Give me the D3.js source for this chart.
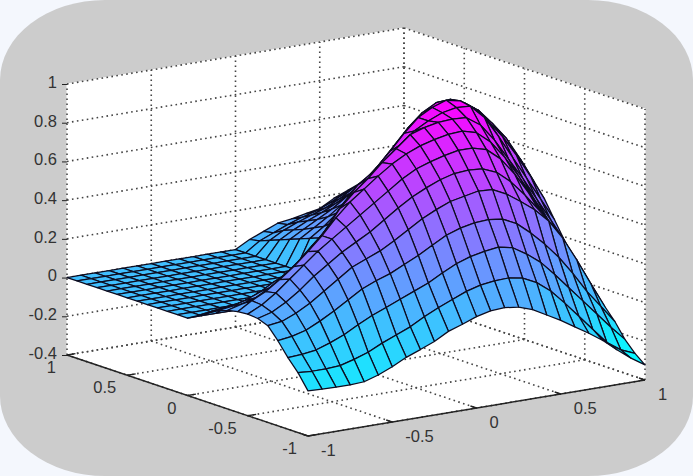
<!DOCTYPE html>
<html>
<head>
<meta charset="utf-8">
<script src="https://cdn.jsdelivr.net/npm/d3@7"></script>
<style>
	html, body { margin: 0; padding: 0; background: #f4f7fd; }
	svg { display: block; }
	text { font-family: "Liberation Sans", sans-serif; font-size: 16.5px; fill: #333; }
</style>
</head>
<body>
<svg id="chart" width="693" height="476"></svg>
<script>

var xValues = [-1, -0.9167, -0.8333, -0.75, -0.6667, -0.5833, -0.5, -0.4167, -0.3333, -0.25, -0.1667, -0.0833, 0, 0.0833, 0.1667, 0.25, 0.3333, 0.4167, 0.5, 0.5833, 0.6667, 0.75, 0.8333, 0.9167, 1];
var yValues = [-1, -0.9167, -0.8333, -0.75, -0.6667, -0.5833, -0.5, -0.4167, -0.3333, -0.25, -0.1667, -0.0833, 0, 0.0833, 0.1667, 0.25, 0.3333, 0.4167, 0.5, 0.5833, 0.6667, 0.75, 0.8333, 0.9167, 1];

// surface heights, one row per y value
var zRows = [
	[-.167,-.17,-.172,-.172,-.168,-.145,-.115,-.078,-.05,-.02,.02,.045,.072,.09,.094,.085,.06,.02,-.02,-.065,-.11,-.16,-.22,-.275,-.322],
	[-.09,-.095,-.095,-.09,-.07,-.045,-.01,.02,.05,.09,.125,.155,.185,.205,.215,.218,.205,.17,.115,.04,-.04,-.12,-.20,-.25,-.28],
	[-.03,-.025,-.015,.01,.04,.08,.115,.145,.175,.205,.235,.275,.31,.335,.35,.36,.345,.30,.245,.17,.09,.01,-.07,-.15,-.225],
	[.04,.05,.07,.105,.145,.19,.235,.265,.29,.325,.36,.40,.44,.465,.48,.485,.475,.44,.38,.31,.23,.135,.03,-.06,-.15],
	[.10,.11,.14,.18,.23,.28,.33,.36,.39,.43,.475,.52,.555,.585,.60,.615,.61,.575,.525,.47,.40,.30,.175,.04,-.09],
	[.12,.14,.18,.23,.29,.34,.39,.43,.47,.52,.57,.615,.65,.68,.70,.705,.70,.67,.61,.53,.44,.33,.19,.07,-.03],
	[.125,.16,.21,.27,.33,.39,.44,.49,.54,.59,.64,.69,.73,.755,.775,.79,.79,.77,.71,.62,.51,.39,.26,.14,.03],
	[.12,.165,.20,.25,.305,.37,.44,.52,.59,.645,.70,.75,.79,.82,.84,.855,.86,.84,.78,.69,.58,.46,.34,.21,.10],
	[.11,.13,.15,.19,.24,.30,.37,.44,.54,.61,.67,.74,.80,.86,.885,.90,.905,.90,.85,.76,.65,.54,.42,.30,.18],
	[.09,.10,.12,.15,.19,.22,.29,.36,.44,.54,.62,.67,.72,.79,.85,.89,.92,.935,.93,.86,.75,.63,.51,.39,.27],
	[.06,.07,.08,.10,.13,.17,.22,.28,.35,.45,.53,.60,.665,.74,.82,.89,.93,.955,.94,.89,.81,.72,.61,.49,.36],
	[.03,.04,.05,.06,.07,.09,.12,.16,.22,.31,.40,.50,.59,.66,.74,.82,.885,.925,.93,.90,.85,.77,.68,.56,.43],
	[0,0,0,0,0,0,0,0,.02,.05,.08,.12,.16,.40,.60,.72,.80,.86,.89,.89,.85,.79,.71,.61,.50],
	[0,0,0,0,0,0,0,0,0,0,.01,.02,.04,.28,.44,.58,.69,.78,.83,.85,.84,.79,.72,.63,.52],
	[0,0,0,0,0,0,0,0,0,0,0,0,0,.24,.38,.51,.62,.71,.77,.80,.80,.76,.69,.61,.51],
	[0,0,0,0,0,0,0,0,0,0,0,0,0,.21,.33,.45,.55,.64,.71,.75,.75,.72,.66,.58,.49],
	[0,0,0,0,0,0,0,0,0,0,0,0,0,.19,.28,.36,.43,.50,.57,.65,.69,.68,.62,.55,.47],
	[0,0,0,0,0,0,0,0,0,0,0,0,0,.17,.24,.30,.36,.43,.50,.57,.62,.63,.59,.53,.45],
	[0,0,0,0,0,0,0,0,0,0,0,0,0,.15,.20,.26,.31,.37,.43,.50,.55,.57,.56,.50,.43],
	[0,0,0,0,0,0,0,0,0,0,0,0,0,.13,.175,.22,.27,.32,.37,.43,.48,.51,.52,.47,.42],
	[0,0,0,0,0,0,0,0,0,0,0,0,0,.11,.15,.19,.23,.28,.32,.38,.43,.47,.49,.45,.40],
	[0,0,0,0,0,0,0,0,0,0,0,0,0,.09,.13,.165,.195,.23,.27,.32,.37,.42,.45,.43,.38],
	[0,0,0,0,0,0,0,0,0,0,0,0,0,.07,.11,.14,.165,.19,.225,.27,.30,.37,.41,.40,.37],
	[0,0,0,0,0,0,0,0,0,0,0,0,0,.05,.08,.11,.135,.155,.185,.22,.25,.30,.36,.36,.35],
	[0,0,0,0,0,0,0,0,0,0,0,0,0,.04,.07,.10,.11,.125,.14,.18,.21,.24,.27,.30,.32]
];

var zTicks = [-0.4, -0.2, 0, 0.2, 0.4, 0.6, 0.8, 1];
var xTicks = [-1, -0.5, 0, 0.5, 1];
var yTicks = [-1, -0.5, 0, 0.5, 1];

var svg = d3.select('#chart');

// the projection is three linear scales added together
var origin = {x: 308, y: 436};
var xToLeft = d3.scaleLinear().domain([-1, 1]).range([0, 337]),
	xToTop = d3.scaleLinear().domain([-1, 1]).range([0, -56]),
	yToLeft = d3.scaleLinear().domain([-1, 1]).range([0, -241]),
	yToTop = d3.scaleLinear().domain([-1, 1]).range([0, -81]),
	zToTop = d3.scaleLinear().domain([-0.4, 1]).range([0, -271]);

function project(x, y, z) {
	return [
		origin.x + xToLeft(x) + yToLeft(y),
		origin.y + xToTop(x) + yToTop(y) + zToTop(z)
	];
}

var line = d3.line();

// figure background with the big rounded corners
svg.append('rect')
	.attr('width', 693)
	.attr('height', 476)
	.attr('rx', 105)
	.attr('ry', 80)
	.attr('fill', '#cccccc');

// white walls and floor of the axes box
var walls = [
	[[-1, 1, -0.4], [1, 1, -0.4], [1, 1, 1], [-1, 1, 1]],
	[[1, 1, -0.4], [1, -1, -0.4], [1, -1, 1], [1, 1, 1]],
	[[-1, 1, -0.4], [1, 1, -0.4], [1, -1, -0.4], [-1, -1, -0.4]]
];
svg.selectAll('path.wall')
	.data(walls)
	.enter().append('path')
	.attr('class', 'wall')
	.attr('fill', '#fff')
	.attr('stroke', '#fff')
	.attr('d', function(d) {
		return line(d.map(function(p) { return project(p[0], p[1], p[2]); })) + 'Z';
	});

// dotted grid: each entry is one line, ends given in data coordinates
var grid = [];
zTicks.forEach(function(z) {
	grid.push([[-1, 1, z], [1, 1, z]]);
	grid.push([[1, 1, z], [1, -1, z]]);
});
xTicks.forEach(function(x) {
	grid.push([[x, 1, -0.4], [x, 1, 1]]);
	grid.push([[x, 1, -0.4], [x, -1, -0.4]]);
});
yTicks.forEach(function(y) {
	grid.push([[1, y, -0.4], [1, y, 1]]);
	grid.push([[-1, y, -0.4], [1, y, -0.4]]);
});
svg.selectAll('path.grid')
	.data(grid)
	.enter().append('path')
	.attr('class', 'grid')
	.attr('fill', 'none')
	.attr('stroke', '#444')
	.attr('stroke-width', 1.6)
	.attr('stroke-dasharray', '1.6 3.4')
	.attr('d', function(d) {
		return line(d.map(function(p) { return project(p[0], p[1], p[2]); }));
	});

// solid axis lines along the floor
svg.append('path')
	.attr('fill', 'none')
	.attr('stroke', '#222')
	.attr('stroke-width', 1.4)
	.attr('d', line([project(-1, 1, -0.4), project(-1, -1, -0.4), project(1, -1, -0.4)]));

// axis ticks along the floor
svg.selectAll('path.ytick')
	.data(yTicks)
	.enter().append('path')
	.attr('class', 'ytick')
	.attr('stroke', '#222')
	.attr('stroke-width', 1.4)
	.attr('d', function(d) {
		return line([project(-1, d, -0.4), project(-0.95, d, -0.4)]);
	});
svg.selectAll('path.xtick')
	.data(xTicks)
	.enter().append('path')
	.attr('class', 'xtick')
	.attr('stroke', '#222')
	.attr('stroke-width', 1.4)
	.attr('d', function(d) {
		return line([project(d, -1, -0.4), project(d, -0.95, -0.4)]);
	});

// tick labels
svg.selectAll('text.ylabel')
	.data(yTicks)
	.enter().append('text')
	.attr('class', 'ylabel')
	.attr('text-anchor', 'end')
	.attr('x', function(d) { return project(-1, d, -0.4)[0] - 11; })
	.attr('y', function(d) { return project(-1, d, -0.4)[1] + 18; })
	.text(function(d) { return String(d); });
svg.selectAll('text.xlabel')
	.data(xTicks)
	.enter().append('text')
	.attr('class', 'xlabel')
	.attr('x', function(d) { return project(d, -1, -0.4)[0] + 13; })
	.attr('y', function(d) { return project(d, -1, -0.4)[1] + 20; })
	.text(function(d) { return String(d); });

// vertical axis sits on the left edge of the box
var zPixel = d3.scaleLinear().domain([-0.4, 1]).range([355, 84]);
var zAxis = d3.axisLeft(zPixel)
	.tickValues(zTicks)
	.tickSize(5)
	.tickPadding(5)
	.tickFormat(function(d) { return String(d); });
var zGroup = svg.append('g')
	.attr('transform', 'translate(67, 0)')
	.call(zAxis);
zGroup.select('.domain').remove();
zGroup.attr('font-family', null).attr('font-size', null);
zGroup.selectAll('line').attr('stroke', '#222');
zGroup.selectAll('text').attr('fill', null).attr('dy', '0.2em');

// cool colormap over the range of the heights
var zAll = d3.merge(zRows);
var color = d3.scaleLinear()
	.domain([d3.min(zAll), d3.max(zAll)])
	.range(['#00ffff', '#ff00ff']);

// faceted surface, painted from the far corner to the near corner
var cells = [];
for (var j = yValues.length - 2; j >= 0; j--) {
	for (var i = xValues.length - 2; i >= 0; i--) {
		cells.push({i: i, j: j});
	}
}
svg.selectAll('path.cell')
	.data(cells)
	.enter().append('path')
	.attr('class', 'cell')
	.attr('fill', function(d) { return color(zRows[d.j][d.i]); })
	.attr('stroke', '#0c0c20')
	.attr('stroke-width', 1.25)
	.attr('stroke-linejoin', 'round')
	.attr('d', function(d) {
		var i = d.i, j = d.j;
		return line([
			project(xValues[i], yValues[j], zRows[j][i]),
			project(xValues[i + 1], yValues[j], zRows[j][i + 1]),
			project(xValues[i + 1], yValues[j + 1], zRows[j + 1][i + 1]),
			project(xValues[i], yValues[j + 1], zRows[j + 1][i])
		]) + 'Z';
	});

</script>
</body>
</html>
